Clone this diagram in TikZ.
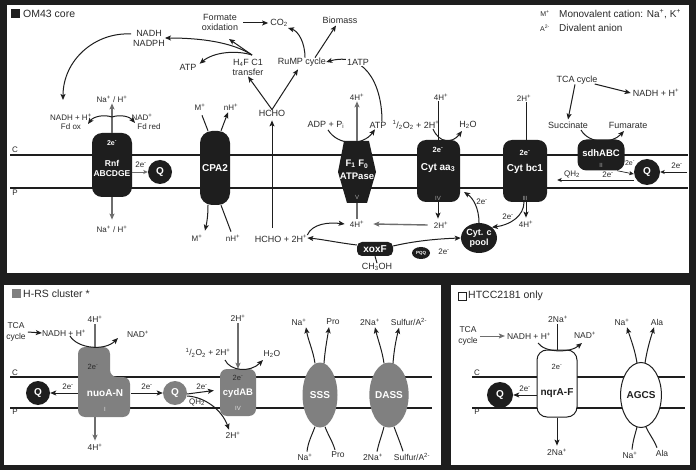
\documentclass[tikz,border=0pt]{standalone}
\usepackage{fontspec}
\setmainfont{Liberation Sans}
\usetikzlibrary{arrows.meta,shapes.geometric}
\definecolor{dk}{HTML}{1E1E1E}
\definecolor{gr}{HTML}{808080}
\definecolor{gl}{HTML}{6E6E6E}
\definecolor{rn}{HTML}{A8A8A8}
\definecolor{tx}{HTML}{2A2A2A}
\newcommand{\Up}[1]{\textsuperscript{#1}}
\newcommand{\Dn}[1]{\textsubscript{#1}}
\tikzset{
  lbl/.style={inner sep=0pt, text=tx, align=center, font=\fontsize{8}{10}\selectfont},
  met/.style={inner sep=0pt, text=tx, align=center, font=\fontsize{9}{10}\selectfont},
  bl/.style={inner sep=0pt, text=tx, align=center, font=\fontsize{8.5}{11}\selectfont},
  ttl/.style={inner sep=0pt, text=tx, anchor=west, font=\fontsize{10.5}{12}\selectfont},
  ahd/.style={-{Stealth[length=6pt,width=5pt,inset=1.3pt]}},
  arr/.style={line width=1pt, draw=dk, ahd},
  sarr/.style={line width=0.7pt, draw=dk, -{Stealth[length=4.5pt,width=4pt,inset=1pt]}},
  garr/.style={line width=1.4pt, draw=gl, ahd},
  gln/.style={line width=1.4pt, draw=gl},
  ln/.style={line width=1pt, draw=dk},
  mem/.style={line width=1.4pt, draw=dk},
  bbox/.style={rectangle, fill=dk, rounded corners=9pt, inner sep=0pt},
  wt/.style={inner sep=0pt, text=white, align=center, font=\fontsize{10}{11}\selectfont\bfseries},
  ws/.style={inner sep=0pt, text=white, font=\fontsize{7}{8}\selectfont\bfseries},
  rom/.style={inner sep=0pt, text=rn, font=\fontsize{6}{7}\selectfont},
  qb/.style={circle, fill=dk, minimum size=24pt, inner sep=0pt, text=white, font=\fontsize{10}{11}\selectfont\bfseries},
}
\begin{document}
\begin{tikzpicture}[x=1pt,y=-1pt]
\useasboundingbox (0,0) rectangle (696,470);
\fill[dk] (0,0) rectangle (696,470);
\fill[white] (7,5) rectangle (689,273);
\fill[white] (4,285) rectangle (441,465);
\fill[white] (451,285) rectangle (690,465);

%% ================= TOP PANEL
\fill[dk] (11,9) rectangle (20,18);
\node[ttl] (ttop) at (23,13.5) {OM43 core};
\node[lbl, font=\fontsize{7}{8}\selectfont] (lgm) at (545,14) {M\Up{+}};
\node[ttl, font=\fontsize{10}{12}\selectfont] (lgmt) at (559,14) {Monovalent cation: Na\Up{+}, K\Up{+}};
\node[lbl, font=\fontsize{7}{8}\selectfont] (lga) at (545,28) {A\Up{2-}};
\node[ttl, font=\fontsize{10}{12}\selectfont] (lgat) at (559,28) {Divalent anion};

\draw[mem] (10,155) -- (688,155);
\draw[mem] (10,188) -- (688,188);
\node[lbl] (c1) at (15,150) {C};
\node[lbl] (p1) at (15,193) {P};

% metabolism
\node[met] (nadh) at (149,38) {NADH\\NADPH};
\node[met] (atpa) at (188,67) {ATP};
\node[met] (form) at (220,22) {Formate\\oxidation};
\node[met] (co2) at (279,23) {CO\Dn{2}};
\node[met] (bio) at (340,20) {Biomass};
\node[met] (h4f) at (248,67) {H\Dn{4}F C1\\transfer};
\node[met] (rump) at (302,62) {RuMP cycle};
\node[met] (hcho) at (272,113) {HCHO};
\coordinate (h4o) at (252,55);
\coordinate (fo) at (229,39);
\coordinate (c2e) at (288,28);
\coordinate (nlt) at (63,100);
\draw[arr] (h4o) -- (fo);
\draw[arr] (h4o) .. controls (232,42) and (200,38) .. (nadh.east);
\draw[arr] (h4o) .. controls (236,50) and (214,52) .. ([xshift=3pt]atpa.north east);
\draw[arr] ([xshift=5pt]form.east |- co2.west) -- ([xshift=-2pt]co2.west);
\draw[arr] ([xshift=3pt]rump.north) .. controls (305,42) and (298,31) .. (c2e);
\draw[arr] ([xshift=13pt]rump.north) -- ([xshift=-4pt,yshift=-2pt]bio.south);
\draw[arr] (hcho.north) -- ([yshift=-1pt]h4f.south);
\draw[arr] (hcho.north) -- ([xshift=-4pt,yshift=-3pt]rump.south);
\draw[arr] ([xshift=-2pt,yshift=4pt]nadh.west) .. controls (95,32) and (63,60) .. (nlt);

% Rnf
\node[bbox, minimum width=40pt, minimum height=64pt, rounded corners=10pt] (rnf) at (112,165) {};
\node[ws] (rnfe) at (112,143) {2e\Up{-}};
\node[wt, font=\fontsize{8.5}{10}\selectfont\bfseries] (rnft) at (112,168) {Rnf\\ABCDGE};
\node[lbl] (nah1) at (112,99) {Na\Up{+} / H\Up{+}};
\draw[garr] (rnf.north) -- ([yshift=-1pt]nah1.south);
\node[lbl] (nhl1) at (71,117) {NADH + H\Up{+}};
\node[lbl] (nhl2) at (71,127) {Fd ox};
\node[lbl] (ndr1) at (142,117) {NAD\Up{+}};
\node[lbl] (ndr2) at (149,127) {Fd red};
\coordinate (rap) at (112,117);
\coordinate (rl) at (88,124);
\coordinate (rr) at (135,123);
\draw[arr] (rap) .. controls (103,114) and (93,117) .. (rl);
\draw[arr] (rap) .. controls (121,114) and (130,117) .. (rr);
\node[lbl] (nah2) at (112,229) {Na\Up{+} / H\Up{+}};
\draw[garr] (rnf.south) -- ([yshift=6pt]nah2.north);
\node[qb] (q1) at (160,172) {Q};
\draw[sarr, draw=gl] ([yshift=-7pt]rnf.east) -- (q1.west);
\node[lbl] (e1) at (141,165) {2e\Up{-}};

% CPA2
\node[bbox, minimum width=30pt, minimum height=74pt, rounded corners=12pt] (cpa) at (215,168) {};
\node[wt] (cpat) at (215,168) {CPA2};
\node[lbl] (m1) at (200,107) {M\Up{+}};
\node[lbl] (n1) at (231,107) {nH\Up{+}};
\draw[ln] ([xshift=-7pt]cpa.north) -- ([xshift=2pt,yshift=-5pt]m1.south);
\draw[arr] ([xshift=6pt]cpa.north) -- ([xshift=-3pt,yshift=-2pt]n1.south);
\node[lbl] (m2) at (197,238) {M\Up{+}};
\node[lbl] (n2) at (233,238) {nH\Up{+}};
\draw[arr] ([xshift=-7pt]cpa.south) .. controls (208,215) and (207,222) .. ([xshift=8pt,yshift=4pt]m2.north);
\draw[ln] ([xshift=6pt]cpa.south) -- ([xshift=-2pt,yshift=3pt]n2.north);

% HCHO + 2H+
\node[met] (hch2) at (281,239) {HCHO + 2H\Up{+}};
\draw[ln, ahd] ([xshift=-9pt,yshift=7pt]hch2.north) -- ([yshift=-4pt]hcho.south);

% ATPase
\fill[dk] (344,141) -- (369,141) -- (376,172) -- (367,203) -- (347,203) -- (338,172) -- cycle;
\coordinate (atop) at (357,141);
\coordinate (abot) at (357,203);
\node[wt, font=\fontsize{9.5}{13.5}\selectfont\bfseries] (atpt) at (357,170) {F\Dn{1} F\Dn{0}\\ATPase};
\node[rom] (r5) at (357,197) {V};
\node[lbl] (h4a) at (357,97) {4H\Up{+}};
\draw[garr] (atop) -- ([yshift=-1pt]h4a.south);
\node[met] (adp) at (326,125) {ADP + P\Dn{i}};
\node[met] (atpb) at (378,125) {ATP};
\draw[arr] ([xshift=2pt,yshift=-1pt]adp.south) .. controls (338,146) and (363,146) .. ([xshift=-3pt,yshift=-1pt]atpb.south);
\draw[arr] ([xshift=4pt]atpb.north) .. controls (382,80) and (362,52) .. (rump.east);
\node[met, fill=white, inner sep=1pt] (atp1) at (358,62) {1ATP};
\node[lbl] (h4b) at (357,224) {4H\Up{+}};
\draw[gln] (abot) -- ([yshift=2pt]h4b.north);
\draw[arr] ([yshift=4pt]hch2.east) .. controls (312,224) and (328,222) .. ([xshift=-5pt]h4b.west);

% xoxF, PQQ, Cyt c
\node[bbox, minimum width=36pt, minimum height=14pt, rounded corners=5pt, text=white, font=\fontsize{10}{11}\selectfont\bfseries] (xox) at (375,249) {xoxF};
\node[met] (ch3) at (377,267) {CH\Dn{3}OH};
\draw[ln] (xox.south) -- (ch3.north);
\draw[arr] ([yshift=4pt]xox.west) .. controls (340,243) and (320,239) .. ([yshift=1pt]hch2.east);
\node[ellipse, fill=dk, minimum width=36pt, minimum height=30pt, inner sep=0pt, text=white, align=center, font=\fontsize{9}{10}\selectfont\bfseries] (cytc) at (479,238) {Cyt. c\\pool};
\draw[arr] ([yshift=3pt]xox.east) .. controls (410,242) and (432,239) .. (cytc.west);
\node[ellipse, fill=dk, minimum width=18pt, minimum height=12pt, inner sep=0pt, text=white, font=\fontsize{4.5}{5}\selectfont\bfseries] (pqq) at (421,253) {PQQ};
\node[lbl] (e6) at (444,252) {2e\Up{-}};

% Cyt aa3
\node[bbox, minimum width=43pt, minimum height=62pt] (aa3) at (438.5,171) {};
\node[ws, font=\fontsize{7.5}{8}\selectfont\bfseries] (aa3e) at (438,150) {2e\Up{-}};
\node[wt] (aa3t) at (438,168) {Cyt aa\Dn{3}};
\node[rom] (r4) at (438,198) {IV};
\node[lbl] (h4c) at (441,97) {4H\Up{+}};
\draw[ln] ([xshift=-3pt,yshift=-1pt]h4c.south) -- ([xshift=-0.5pt]aa3.north);
\node[met] (o2a) at (416,125) {\Up{1}/\Dn{2}O\Dn{2} + 2H\Up{+}};
\node[met] (h2o) at (468,125) {H\Dn{2}O};
\coordinate (o2s) at (433,129);
\coordinate (h2oe) at (462,131);
\draw[arr] (o2s) .. controls (439,143) and (452,144) .. (h2oe);
\node[lbl] (h2a) at (441,225) {2H\Up{+}};
\draw[arr] ([xshift=-0.5pt]aa3.south) -- ([xshift=-3pt,yshift=3pt]h2a.north);
\draw[garr] ([xshift=-6pt]h2a.west) -- ([xshift=9pt]h4b.east);
\coordinate (aa3r) at (464,192);
\draw[arr] (cytc.north) .. controls (479,208) and (473,198) .. (aa3r);
\node[lbl] (e7) at (482,202) {2e\Up{-}};

% Cyt bc1
\node[bbox, minimum width=44pt, minimum height=62pt] (bc1) at (525,171) {};
\node[ws, font=\fontsize{7.5}{8}\selectfont\bfseries] (bc1e) at (525,153) {2e\Up{-}};
\node[wt] (bc1t) at (525,169) {Cyt bc1};
\node[rom] (r3) at (525,198) {III};
\node[lbl] (h2b) at (524,98) {2H\Up{+}};
\draw[ln] ([xshift=2pt,yshift=-1pt]h2b.south) -- ([xshift=1pt]bc1.north);
\draw[arr] ([xshift=-1pt]bc1.south) .. controls (524,216) and (510,225) .. (cytc.north east);
\node[lbl] (e8) at (508,217) {2e\Up{-}};
\node[lbl] (h4d) at (526,224) {4H\Up{+}};
\draw[arr] ([xshift=1pt]bc1.south) -- ([yshift=3pt]h4d.north);

% sdhABC
\node[bbox, minimum width=47pt, minimum height=31pt] (sdh) at (601,155) {};
\node[wt, font=\fontsize{9.5}{10}\selectfont\bfseries] (sdht) at (601,153) {sdhABC};
\node[rom] (r2) at (601,165) {II};
\node[met] (suc) at (568,125) {Succinate};
\node[met] (fum) at (628,125) {Fumarate};
\coordinate (sucs) at (581,130);
\coordinate (fums) at (624,131);
\draw[arr] (sucs) .. controls (589,144) and (612,144) .. (fums);
\node[met] (tca1) at (577,80) {TCA cycle};
\node[met] (nh2) at (656,93) {NADH + H\Up{+}};
\draw[arr] ([xshift=-2pt]tca1.south) -- ([yshift=2pt]suc.north);
\draw[arr] ([xshift=-3pt,yshift=-4pt]tca1.east) -- ([xshift=-2pt]nh2.west);
\node[qb, minimum size=26pt] (q2) at (647,172) {Q};
\draw[sarr] ([xshift=16pt]sdh.south) -- ([yshift=-2pt]q2.west);
\node[lbl, font=\fontsize{7}{8}\selectfont] (e9) at (630,163) {2e\Up{-}};
\coordinate (rin) at (687,172);
\draw[sarr] (rin) -- (q2.east);
\node[lbl] (e10) at (677,166) {2e\Up{-}};
\draw[sarr] ([yshift=-8pt]q2.west) -- ([xshift=10pt,yshift=-9pt]bc1.east);
\node[lbl] (qh2a) at (572,174) {QH\Dn{2}};
\node[lbl] (e11) at (608,175) {2e\Up{-}};

%% ================= BOTTOM LEFT PANEL
\fill[gr] (12,289) rectangle (21,298);
\node[ttl] (tbl) at (23,294) {H-RS cluster *};
\draw[mem] (10,377) -- (432,377);
\draw[mem] (10,408) -- (432,408);
\node[lbl] (c2) at (15,373) {C};
\node[lbl] (p2) at (15,412) {P};

% nuoA-N
\fill[gr, rounded corners=7pt] (78,347) -- (110,347) -- (110,377) -- (130,377) -- (130,417) -- (78,417) -- cycle;
\coordinate (nuot) at (95,347);
\coordinate (nuob) at (95,417);
\coordinate (nuol) at (78,393);
\coordinate (nuor) at (131,393);
\node[inner sep=0pt, text=tx, font=\fontsize{7.5}{8}\selectfont] (nuoe) at (93,367) {2e\Up{-}};
\node[wt] (nuot2) at (105,393) {nuoA-N};
\node[rom, text=white!80!gray] (r1) at (105,409) {I};
\node[bl] (h4e) at (95,319) {4H\Up{+}};
\draw[gln] ([yshift=-2pt]h4e.south) -- (nuot);
\node[bl] (nh3) at (64,333) {NADH + H\Up{+}};
\node[bl] (nad3) at (138,334) {NAD\Up{+}};
\coordinate (nc1) at (70,336);
\coordinate (nc2) at (118,338);
\draw[arr] (nc1) .. controls (78,349) and (105,351) .. (nc2);
\node[bl] (tca2) at (16,332) {TCA\\cycle};
\draw[arr] ([xshift=2pt]tca2.east) -- (nh3.west);
\node[bl] (h4f2) at (95,447) {4H\Up{+}};
\draw[gln, ahd] (nuob) -- ([yshift=3pt]h4f2.north);
\node[qb] (q3) at (38,393) {Q};
\draw[arr] (nuol) -- (q3.east);
\node[lbl] (e12) at (68,387) {2e\Up{-}};
\node[qb, fill=gr] (q4) at (175,393) {Q};
\draw[arr] (nuor) -- (q4.west);
\node[lbl] (e13) at (147,387) {2e\Up{-}};

% cydAB
\node[rectangle, fill=gr, rounded corners=7pt, minimum width=36pt, minimum height=47pt, inner sep=0pt] (cyd) at (238,392.5) {};
\node[inner sep=0pt, text=tx, font=\fontsize{7.5}{8}\selectfont] (cyde) at (238,378) {2e\Up{-}};
\node[wt, font=\fontsize{9.5}{10}\selectfont\bfseries] (cydt) at (238,393) {cydAB};
\node[rom, text=white!80!gray] (r4b) at (238,408) {IV};
\draw[arr] ([yshift=-1pt]q4.east) -- ([xshift=-6pt,yshift=2pt]cyd.west);
\node[lbl] (e14) at (202,387) {2e\Up{-}};
\node[bl] (h2c) at (233,435) {2H\Up{+}};
\draw[arr] ([yshift=-3pt]q4.east) .. controls (205,397) and (222,410) .. ([xshift=-4pt,yshift=2pt]h2c.north);
\node[lbl] (qh2b) at (197,402) {QH\Dn{2}};
\node[bl] (h2d) at (238,318) {2H\Up{+}};
\draw[gln, ahd] ([yshift=-2pt]h2d.south) -- (cyd.north);
\node[bl] (o2b) at (208,353) {\Up{1}/\Dn{2}O\Dn{2} + 2H\Up{+}};
\node[bl] (h2ob) at (272,354) {H\Dn{2}O};
\coordinate (oc1) at (225,360);
\coordinate (oc2) at (263,360);
\draw[arr] (oc1) .. controls (230,371) and (250,373) .. (oc2);

% SSS
\node[ellipse, fill=gr, minimum width=35pt, minimum height=65pt, inner sep=0pt, text=white, font=\fontsize{10}{11}\selectfont\bfseries] (sss) at (320,395) {SSS};
\node[bl] (sna1) at (299,322) {Na\Up{+}};
\node[bl] (spr1) at (333,322) {Pro};
\node[bl] (sna2) at (305,457) {Na\Up{+}};
\node[bl] (spr2) at (338,455) {Pro};
\draw[arr] ([xshift=-5pt,yshift=-1pt]sss.north) .. controls (313,350) and (308,340) .. ([xshift=7pt,yshift=-2pt]sna1.south);
\draw[arr] ([xshift=4pt,yshift=-1pt]sss.north) .. controls (325,350) and (327,340) .. ([xshift=-4pt,yshift=-2pt]spr1.south);
\draw[ln] ([xshift=-5pt,yshift=1pt]sss.south) .. controls (312,435) and (308,442) .. ([xshift=2pt,yshift=2pt]sna2.north);
\draw[ln] ([xshift=5pt,yshift=1pt]sss.south) .. controls (328,435) and (332,440) .. ([xshift=-3pt,yshift=2pt]spr2.north);

% DASS
\node[ellipse, fill=gr, minimum width=33pt, minimum height=65pt, inner sep=0pt, text=white, font=\fontsize{10}{11}\selectfont\bfseries] (dass) at (389,395) {DASS};
\node[bl] (dna1) at (370,322) {2Na\Up{+}};
\node[bl] (dsu1) at (409,322) {Sulfur/A\Up{2-}};
\node[bl] (dna2) at (373,457) {2Na\Up{+}};
\node[bl] (dsu2) at (412,457) {Sulfur/A\Up{2-}};
\draw[arr] ([xshift=-5pt,yshift=-1pt]dass.north) .. controls (382,350) and (378,340) .. ([xshift=5pt,yshift=-2pt]dna1.south);
\draw[arr] ([xshift=4pt,yshift=-1pt]dass.north) .. controls (394,350) and (396,340) .. ([xshift=-10pt,yshift=-2pt]dsu1.south);
\draw[ln] ([xshift=-5pt,yshift=1pt]dass.south) .. controls (382,435) and (379,442) .. ([xshift=4pt,yshift=2pt]dna2.north);
\draw[ln] ([xshift=5pt,yshift=1pt]dass.south) .. controls (397,435) and (400,442) .. ([xshift=-9pt,yshift=2pt]dsu2.north);

%% ================= BOTTOM RIGHT PANEL
\draw[dk, line width=0.8pt, fill=white] (458,292) rectangle (466,300);
\node[ttl] (tbr) at (468,296) {HTCC2181 only};
\draw[mem] (472,377) -- (685,377);
\draw[mem] (472,408) -- (685,408);
\node[lbl] (c3) at (477,373) {C};
\node[lbl] (p3) at (477,412) {P};

% nqrA-F
\node[rectangle, fill=white, draw=dk, line width=1pt, rounded corners=10pt, minimum width=40pt, minimum height=67pt, inner sep=0pt] (nqr) at (557,383.5) {};
\node[inner sep=0pt, text=tx, font=\fontsize{7.5}{8}\selectfont] (nqre) at (557,367) {2e\Up{-}};
\node[inner sep=0pt, text=dk, font=\fontsize{10}{11}\selectfont\bfseries] (nqrt) at (557,393) {nqrA-F};
\node[bl] (na3) at (558,319) {2Na\Up{+}};
\draw[ln] ([xshift=-1pt,yshift=-2pt]na3.south) -- (nqr.north);
\node[bl] (nh4) at (529,336) {NADH + H\Up{+}};
\node[bl] (nad4) at (585,335) {NAD\Up{+}};
\coordinate (qc1) at (538,343);
\coordinate (qc2) at (582,343);
\draw[arr] (qc1) .. controls (545,353) and (570,353) .. (qc2);
\node[bl] (tca3) at (468,336) {TCA\\cycle};
\draw[arr, draw=gl] ([xshift=2pt]tca3.east) -- ([xshift=-2pt]nh4.west);
\node[bl] (na4) at (557,452) {2Na\Up{+}};
\draw[arr] (nqr.south) -- ([yshift=3pt]na4.north);
\node[qb, minimum size=26pt] (q5) at (500,395) {Q};
\draw[arr] ([yshift=-11.5pt]nqr.west) -- (q5.east);
\node[lbl] (e15) at (525,389) {2e\Up{-}};

% AGCS
\node[ellipse, fill=white, draw=dk, line width=1pt, minimum width=34pt, minimum height=65pt, inner sep=0pt, text=dk, font=\fontsize{10}{11}\selectfont\bfseries] (agcs) at (641,395) {AGCS};
\node[bl] (ana1) at (622,322) {Na\Up{+}};
\node[bl] (aal1) at (657,322) {Ala};
\node[bl] (ana2) at (630,455) {Na\Up{+}};
\node[bl] (aal2) at (662,453) {Ala};
\draw[arr] ([xshift=-4pt,yshift=-1pt]agcs.north) .. controls (635,350) and (631,340) .. ([xshift=5pt,yshift=-2pt]ana1.south);
\draw[arr] ([xshift=4pt,yshift=-1pt]agcs.north) .. controls (647,350) and (650,340) .. ([xshift=-3pt,yshift=-2pt]aal1.south);
\draw[ln] ([xshift=-4pt,yshift=1pt]agcs.south) .. controls (635,435) and (633,440) .. ([xshift=2pt,yshift=2pt]ana2.north);
\draw[ln] ([xshift=5pt,yshift=1pt]agcs.south) .. controls (649,434) and (653,438) .. ([xshift=-5pt,yshift=2pt]aal2.north);
\end{tikzpicture}
\end{document}
